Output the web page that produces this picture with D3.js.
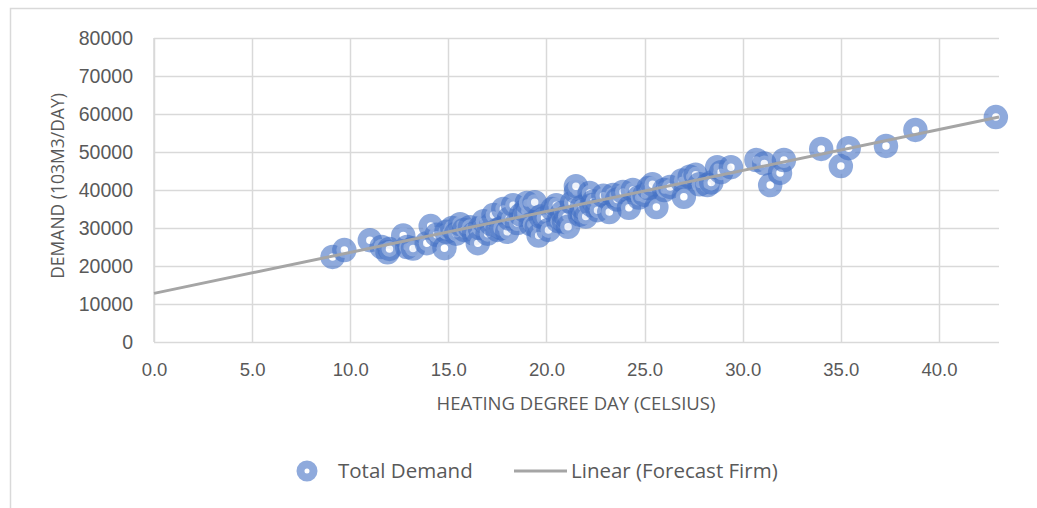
<!DOCTYPE html>
<html><head><meta charset="utf-8">
<script src="https://cdn.jsdelivr.net/npm/d3@7"></script>
<style>body{margin:0;background:#fff;}svg{display:block;font-family:"Open Sans",sans-serif;}</style>
</head><body>
<script>
const hdd = [9.1,9.7,11.0,11.6,11.9,12.0,12.7,12.9,13.2,13.9,14.1,14.4,14.8,14.9,15.2,15.4,15.6,15.8,16.1,16.3,16.5,16.6,16.8,17.0,17.2,17.3,17.5,17.7,17.8,18.0,18.1,18.3,18.5,18.7,18.9,19.0,19.2,19.4,19.5,19.6,19.7,19.9,20.1,20.3,20.5,20.6,20.8,20.9,21.0,21.1,21.3,21.5,21.5,21.7,21.8,22.0,22.2,22.3,22.4,22.6,22.9,23.2,23.4,23.6,23.9,24.2,24.4,24.7,25.0,25.2,25.4,25.6,26.0,26.3,26.9,27.0,27.3,27.6,27.8,28.2,28.4,28.7,28.9,29.4,30.7,31.1,31.4,31.9,32.1,34.0,35.0,35.4,37.3,38.8,42.9];
const demand = [22400,24200,26800,25000,23600,24500,28000,25000,24600,26000,30500,28200,24700,29000,30000,28500,31000,29500,30200,28500,26000,30000,31800,28500,31000,33400,29500,30000,35000,29000,32500,36000,31300,33500,34500,36600,31000,36800,30300,28000,33000,32600,29500,35000,36000,31800,34000,31600,33000,30300,36600,39500,41000,33500,35500,33000,39200,36000,37000,34700,38500,34200,38700,37500,39500,35300,40000,38000,38700,40500,41500,35500,40000,40800,42500,38200,43500,44000,41500,41300,42000,46000,44700,46000,47900,47000,41300,44500,47900,50800,46300,51000,51600,55800,59200];
const trendX = [0, 43.06];
const trendY = [12800, 59200];
const xTicks = [0,5,10,15,20,25,30,35,40];
const yTicks = [0,10000,20000,30000,40000,50000,60000,70000,80000];
const seriesName = "Total Demand";
const trendName = "Linear (Forecast Firm)";
const xTitle = "HEATING DEGREE DAY (CELSIUS)";
const yTitle = "DEMAND (103M3/DAY)";

const W = 1037, H = 508;
const L = 154, R = 999, T = 38, B = 342;
const svg = d3.select("body").append("svg").attr("width", W).attr("height", H);
svg.append("rect").attr("x",10.5).attr("y",8.5).attr("width",W).attr("height",H).attr("fill","none").attr("stroke","#d9d9d9").attr("stroke-width",1.5);

const x = d3.scaleLinear().domain([0, 43.06]).range([L, R]);
const y = d3.scaleLinear().domain([0, 80000]).range([B, T]);
const txt = "#595959";

const g = svg.append("g");
g.selectAll(".gx").data(xTicks).join("line").attr("x1",d=>Math.round(x(d))+0.5).attr("x2",d=>Math.round(x(d))+0.5).attr("y1",T).attr("y2",B).attr("stroke","#d9d9d9").attr("stroke-width",1.5);
g.selectAll(".gy").data(yTicks).join("line").attr("y1",d=>Math.round(y(d))+0.5).attr("y2",d=>Math.round(y(d))+0.5).attr("x1",L).attr("x2",R).attr("stroke","#d9d9d9").attr("stroke-width",1.5);
g.append("line").attr("x1",L).attr("x2",L).attr("y1",T).attr("y2",B).attr("stroke","#d9d9d9").attr("stroke-width",1.5);

const xAxis = d3.axisBottom(x).tickValues(xTicks).tickFormat(d3.format(".1f")).tickSize(0).tickPadding(28);
const gx = svg.append("g").attr("transform",`translate(0,${B})`).call(xAxis);
gx.select(".domain").remove();
gx.selectAll("text").attr("fill",txt).style("font-size","18.5px").attr("dy","0.32em");

const yAxis = d3.axisLeft(y).tickValues(yTicks).tickFormat(d3.format("d")).tickSize(0).tickPadding(21);
const gy = svg.append("g").attr("transform",`translate(${L},0)`).call(yAxis);
gy.select(".domain").remove();
gy.selectAll("text").attr("fill",txt).style("font-size","19.5px");

svg.append("text").attr("x",576).attr("y",404).attr("dy","0.35em").attr("text-anchor","middle").attr("fill",txt).style("font-size","18.5px").text(xTitle);
svg.append("text").attr("transform","translate(58,186) rotate(-90)").attr("dy","0.35em").attr("text-anchor","middle").attr("fill",txt).style("font-size","17.5px").text(yTitle);

const pts = hdd.map((d,i)=>({x:d,y:demand[i]}));
const mk = svg.append("g");
mk.selectAll("circle").data(pts).join("circle")
  .attr("cx",d=>x(d.x)).attr("cy",d=>y(d.y)).attr("r",8)
  .attr("fill","#fff").attr("fill-opacity",0.85)
  .attr("stroke","#4472C4").attr("stroke-opacity",0.6).attr("stroke-width",8.5);

const line = d3.line().x(d=>x(d[0])).y(d=>y(d[1]));
svg.append("path").attr("d",line(trendX.map((d,i)=>[d,trendY[i]]))).attr("fill","none").attr("stroke","#a5a5a5").attr("stroke-width",3);

// legend
const lg = svg.append("g");
lg.append("circle").attr("cx",307).attr("cy",471).attr("r",6.5).attr("fill","#fff").attr("stroke","#4472C4").attr("stroke-opacity",0.6).attr("stroke-width",8);
lg.append("text").attr("x",338).attr("y",471).attr("dy","0.35em").attr("fill",txt).style("font-size","20.5px").text(seriesName);
lg.append("line").attr("x1",514).attr("x2",567).attr("y1",471).attr("y2",471).attr("stroke","#a5a5a5").attr("stroke-width",3);
lg.append("text").attr("x",571).attr("y",471).attr("dy","0.35em").attr("fill",txt).style("font-size","20.5px").text(trendName);
</script>
</body></html>
